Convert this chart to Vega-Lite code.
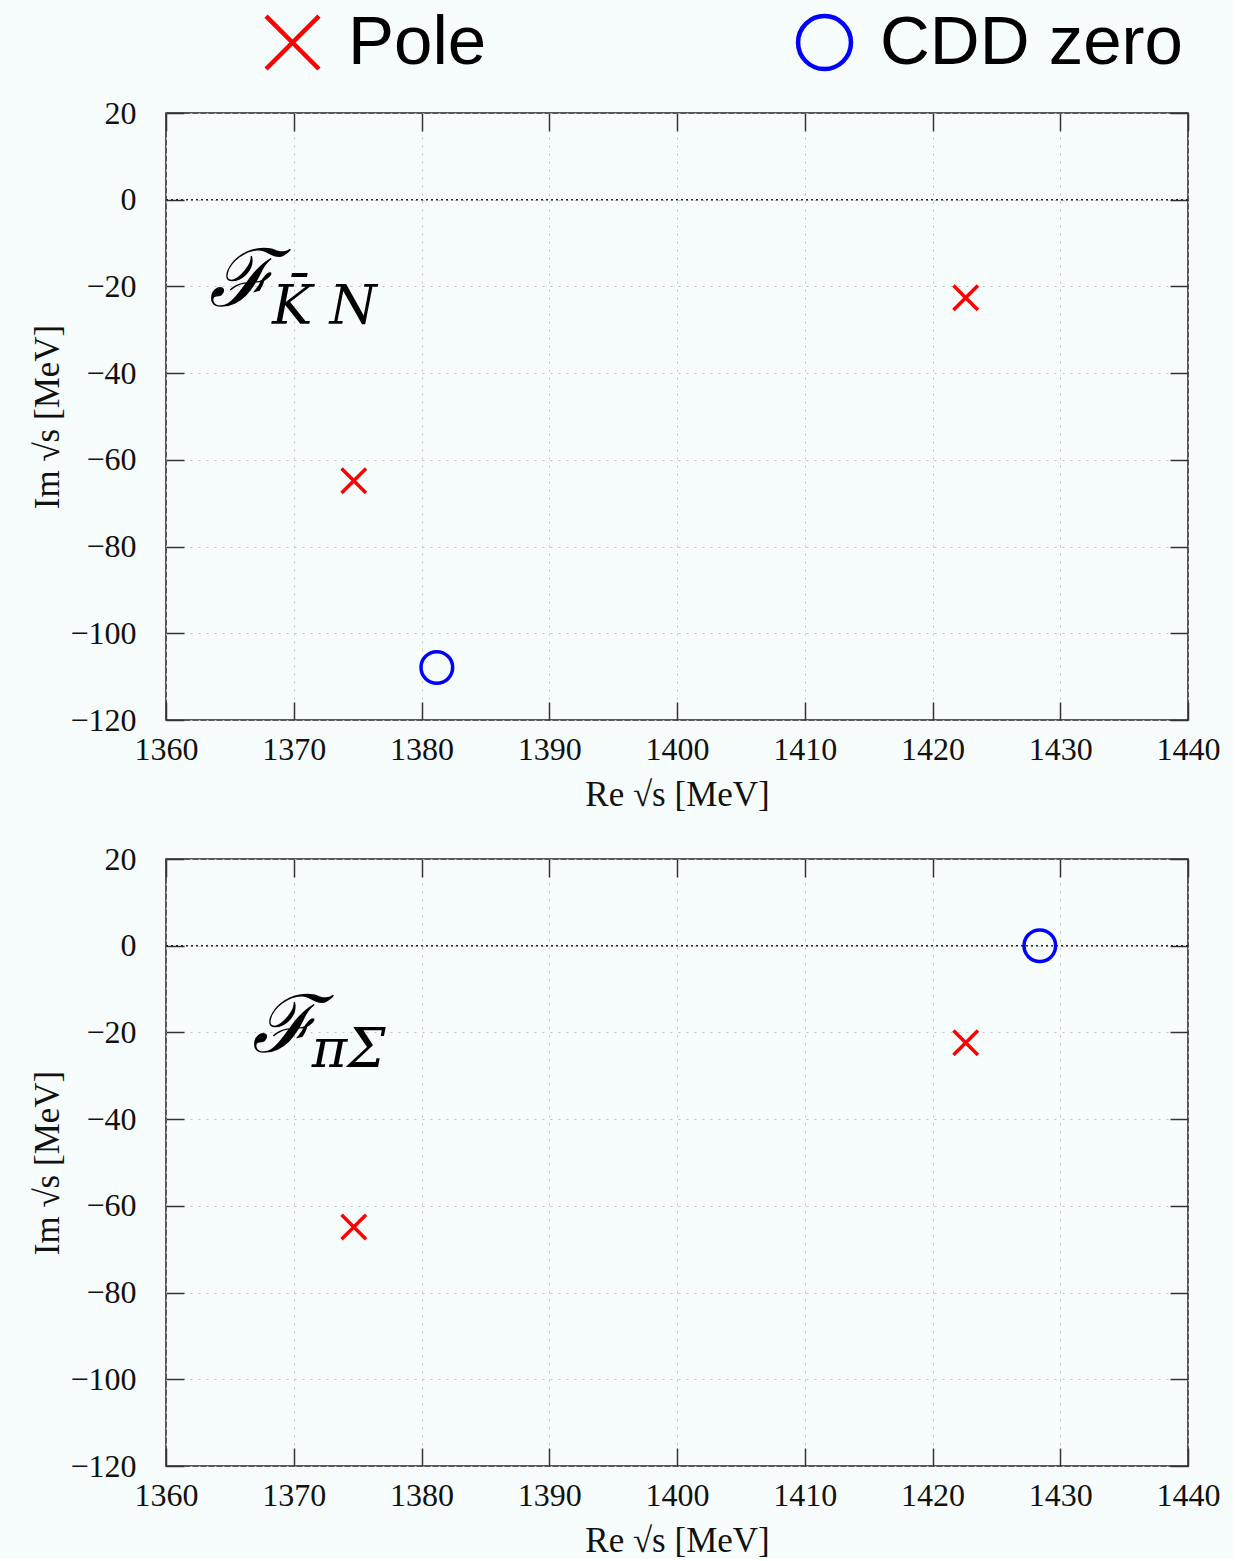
{
  "$schema": "https://vega.github.io/schema/vega-lite/v6.json",
  "background": "#f7fdfc",
  "padding": {"left": 30, "top": 8, "right": 12, "bottom": 0},
  "spacing": 29,
  "datasets": {
    "pts": [
      {"panel": "KN", "type": "Pole", "re": 1374.7, "im": -64.8},
      {"panel": "KN", "type": "Pole", "re": 1422.6, "im": -22.6},
      {"panel": "KN", "type": "CDD zero", "re": 1381.2, "im": -107.9},
      {"panel": "PS", "type": "Pole", "re": 1374.7, "im": -64.9},
      {"panel": "PS", "type": "Pole", "re": 1422.6, "im": -22.4},
      {"panel": "PS", "type": "CDD zero", "re": 1428.4, "im": 0.0}
    ]
  },
  "config": {
    "view": {"stroke": "#222", "strokeWidth": 1.5},
    "font": "Liberation Serif",
    "axis": {
      "domain": false,
      "tickSize": -18,
      "tickColor": "#333",
      "tickWidth": 1.5,
      "labelFont": "Liberation Serif",
      "labelFontSize": 32,
      "labelColor": "#111",
      "labelFlush": false,
      "labelOverlap": false,
      "format": "d",
      "titleFont": "Liberation Serif",
      "titleFontSize": 35,
      "titleFontWeight": "normal",
      "titleColor": "#111",
      "gridColor": "#c0c0c0",
      "gridDash": [2, 6],
      "gridWidth": 1
    },
    "legend": {
      "orient": "none",
      "legendX": 92,
      "legendY": -105,
      "direction": "horizontal",
      "symbolSize": 2800,
      "symbolStrokeWidth": 4.5,
      "labelFontSize": 69,
      "labelFont": "Liberation Sans",
      "labelColor": "#000",
      "labelLimit": 600,
      "labelOffset": 21,
      "columnPadding": 302
    }
  },
  "vconcat": [
    {
      "width": 1022,
      "height": 607,
      "resolve": {"axis": {"x": "independent", "y": "independent"}},
      "layer": [
        {
          "data": {"values": [{}]},
          "mark": {"type": "rule", "strokeDash": [2, 3], "color": "#222", "strokeWidth": 1.4},
          "encoding": {"y": {"datum": 0, "type": "quantitative", "axis": null}}
        },
        {
          "data": {"name": "pts"},
          "transform": [{"filter": "datum.panel === 'KN' && datum.type === 'Pole'"}],
          "mark": {"type": "point", "filled": false, "strokeWidth": 3.5, "opacity": 1, "size": 600},
          "encoding": {
            "x": {"field": "re", "type": "quantitative", "scale": {"domain": [1360, 1440], "nice": false, "zero": false},
              "axis": {"orient": "bottom", "values": [1360, 1370, 1380, 1390, 1400, 1410, 1420, 1430, 1440], "grid": true, "labelPadding": 32, "title": "Re √s [MeV]", "titlePadding": 12}},
            "y": {"field": "im", "type": "quantitative", "scale": {"domain": [-120, 20], "nice": false, "zero": false},
              "axis": {"orient": "left", "values": [-120, -100, -80, -60, -40, -20, 0, 20], "grid": true, "labelPadding": 48, "title": "Im √s [MeV]", "titlePadding": 4}},
            "color": {"field": "type", "type": "nominal", "scale": {"domain": ["Pole", "CDD zero"], "range": ["#ff0000", "#0000ff"]}, "legend": {"title": null}},
            "shape": {"field": "type", "type": "nominal", "scale": {"domain": ["Pole", "CDD zero"], "range": ["M-1,-1L1,1M-1,1L1,-1", "circle"]}, "legend": {"title": null}}
          }
        },
        {
          "data": {"name": "pts"},
          "transform": [{"filter": "datum.panel === 'KN' && datum.type === 'CDD zero'"}],
          "mark": {"type": "point", "filled": false, "strokeWidth": 3.5, "opacity": 1, "size": 1000},
          "encoding": {
            "x": {"field": "re", "type": "quantitative", "axis": null},
            "y": {"field": "im", "type": "quantitative", "axis": null},
            "color": {"field": "type", "type": "nominal", "legend": {"title": null}},
            "shape": {"field": "type", "type": "nominal", "legend": {"title": null}}
          }
        },
        {
          "data": {"values": [{}]},
          "mark": {"type": "text", "text": "ℱ", "font": "DejaVu Serif", "fontStyle": "italic", "fontSize": 80, "align": "left", "baseline": "alphabetic", "color": "#000"},
          "encoding": {
            "x": {"datum": 1363.4, "type": "quantitative", "axis": {"orient": "top", "values": [1360, 1370, 1380, 1390, 1400, 1410, 1420, 1430, 1440], "labels": false, "grid": false, "title": null}},
            "y": {"datum": -24.4, "type": "quantitative", "axis": {"orient": "right", "values": [-120, -100, -80, -60, -40, -20, 0, 20], "labels": false, "grid": false, "title": null}}
          }
        },
        {
          "data": {"values": [{}]},
          "mark": {"type": "text", "text": "K̄ N", "font": "DejaVu Serif", "fontStyle": "italic", "fontSize": 54, "align": "left", "baseline": "alphabetic", "color": "#000"},
          "encoding": {
            "x": {"datum": 1368.3, "type": "quantitative", "axis": null},
            "y": {"datum": -28.7, "type": "quantitative", "axis": null}
          }
        }
      ]
    },
    {
      "width": 1022,
      "height": 607,
      "resolve": {"axis": {"x": "independent", "y": "independent"}},
      "layer": [
        {
          "data": {"values": [{}]},
          "mark": {"type": "rule", "strokeDash": [2, 3], "color": "#222", "strokeWidth": 1.4},
          "encoding": {"y": {"datum": 0, "type": "quantitative", "axis": null}}
        },
        {
          "data": {"name": "pts"},
          "transform": [{"filter": "datum.panel === 'PS' && datum.type === 'Pole'"}],
          "mark": {"type": "point", "filled": false, "strokeWidth": 3.5, "opacity": 1, "size": 600},
          "encoding": {
            "x": {"field": "re", "type": "quantitative", "scale": {"domain": [1360, 1440], "nice": false, "zero": false},
              "axis": {"orient": "bottom", "values": [1360, 1370, 1380, 1390, 1400, 1410, 1420, 1430, 1440], "grid": true, "labelPadding": 32, "title": "Re √s [MeV]", "titlePadding": 12}},
            "y": {"field": "im", "type": "quantitative", "scale": {"domain": [-120, 20], "nice": false, "zero": false},
              "axis": {"orient": "left", "values": [-120, -100, -80, -60, -40, -20, 0, 20], "grid": true, "labelPadding": 48, "title": "Im √s [MeV]", "titlePadding": 4}},
            "color": {"field": "type", "type": "nominal", "scale": {"domain": ["Pole", "CDD zero"], "range": ["#ff0000", "#0000ff"]}, "legend": {"title": null}},
            "shape": {"field": "type", "type": "nominal", "scale": {"domain": ["Pole", "CDD zero"], "range": ["M-1,-1L1,1M-1,1L1,-1", "circle"]}, "legend": {"title": null}}
          }
        },
        {
          "data": {"name": "pts"},
          "transform": [{"filter": "datum.panel === 'PS' && datum.type === 'CDD zero'"}],
          "mark": {"type": "point", "filled": false, "strokeWidth": 3.5, "opacity": 1, "size": 1000},
          "encoding": {
            "x": {"field": "re", "type": "quantitative", "axis": null},
            "y": {"field": "im", "type": "quantitative", "axis": null},
            "color": {"field": "type", "type": "nominal", "legend": {"title": null}},
            "shape": {"field": "type", "type": "nominal", "legend": {"title": null}}
          }
        },
        {
          "data": {"values": [{}]},
          "mark": {"type": "text", "text": "ℱ", "font": "DejaVu Serif", "fontStyle": "italic", "fontSize": 80, "align": "left", "baseline": "alphabetic", "color": "#000"},
          "encoding": {
            "x": {"datum": 1366.7, "type": "quantitative", "axis": {"orient": "top", "values": [1360, 1370, 1380, 1390, 1400, 1410, 1420, 1430, 1440], "labels": false, "grid": false, "title": null}},
            "y": {"datum": -24.6, "type": "quantitative", "axis": {"orient": "right", "values": [-120, -100, -80, -60, -40, -20, 0, 20], "labels": false, "grid": false, "title": null}}
          }
        },
        {
          "data": {"values": [{}]},
          "mark": {"type": "text", "text": "πΣ", "font": "DejaVu Serif", "fontStyle": "italic", "fontSize": 54, "align": "left", "baseline": "alphabetic", "color": "#000"},
          "encoding": {
            "x": {"datum": 1371.4, "type": "quantitative", "axis": null},
            "y": {"datum": -27.9, "type": "quantitative", "axis": null}
          }
        }
      ]
    }
  ]
}
